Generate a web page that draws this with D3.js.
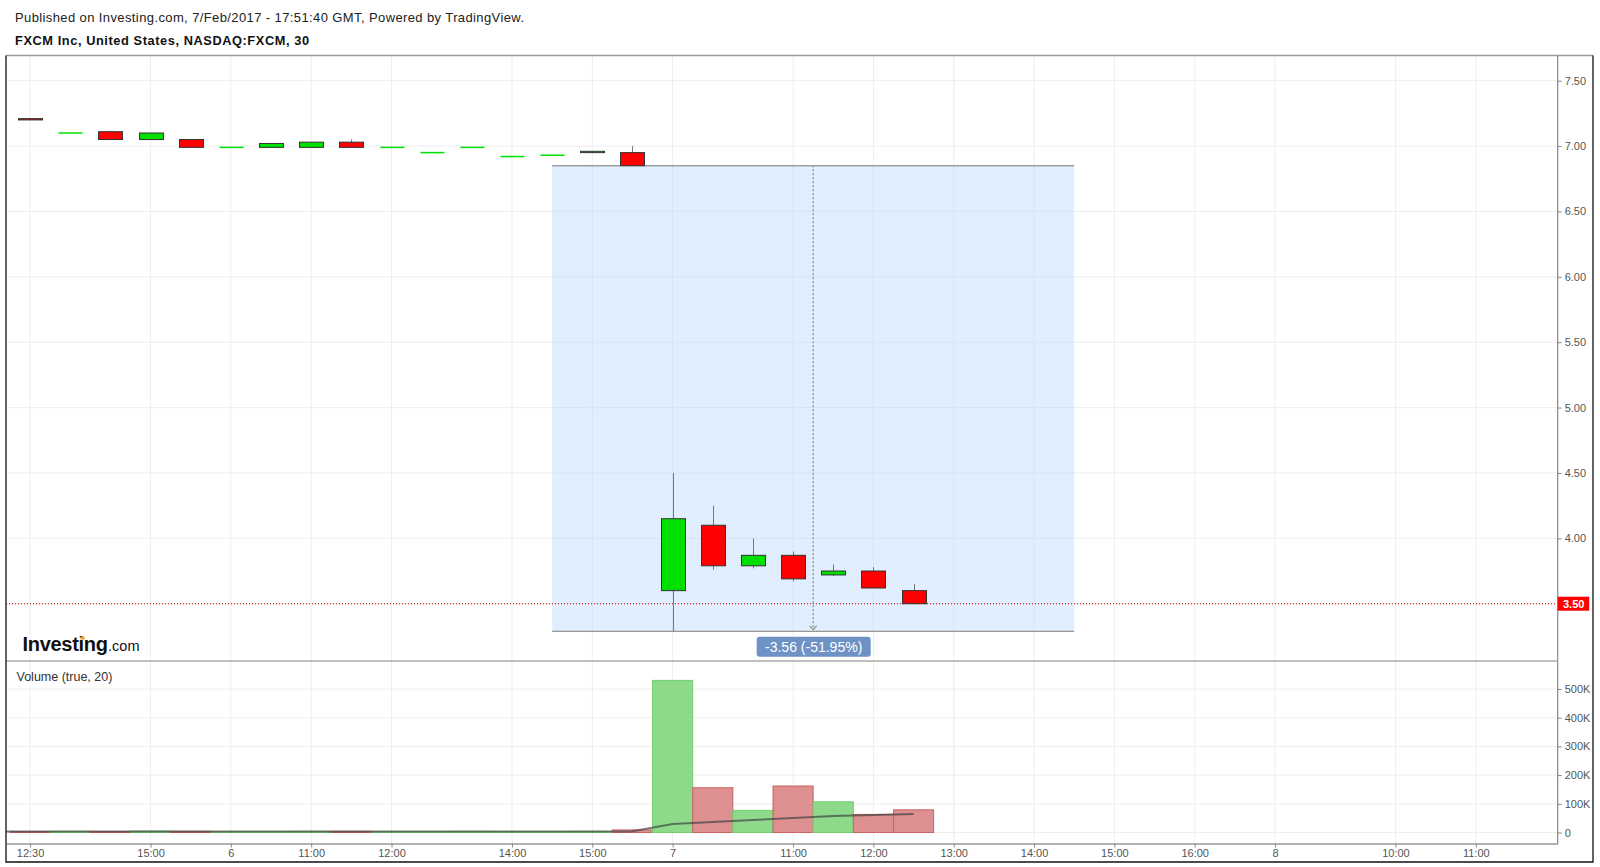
<!DOCTYPE html>
<html><head><meta charset="utf-8">
<script src="https://cdn.jsdelivr.net/npm/d3@7"></script>
<style>html,body{margin:0;padding:0;background:#fff;} svg{display:block;font-family:"Liberation Sans",Arial,sans-serif;}</style>
</head><body><svg id="c" width="1600" height="867"></svg>
<script>
// ---------------- data ----------------
const bars   = d3.range(23);
const opens  = [7.21,7.10,7.11,7.05,7.05,6.99,6.99,6.99,7.03,6.99,6.95,6.99,6.92,6.93,6.95,6.95,3.60,4.10,3.79,3.87,3.72,3.75,3.60];
const highs  = [7.21,7.10,7.11,7.10,7.05,6.99,7.02,7.03,7.05,6.99,6.95,6.99,6.92,6.93,6.96,7.00,4.50,4.25,4.00,3.90,3.80,3.78,3.65];
const lows   = [7.20,7.10,7.05,7.05,6.99,6.99,6.99,6.99,6.99,6.99,6.95,6.99,6.92,6.93,6.95,6.85,3.29,3.76,3.77,3.67,3.71,3.62,3.50];
const closes = [7.20,7.10,7.05,7.10,6.99,6.99,7.02,7.03,6.99,6.99,6.95,6.99,6.92,6.93,6.96,6.85,4.15,3.79,3.87,3.69,3.75,3.62,3.50];
const volumes = [3000,4000,3000,5000,4000,3000,3000,4000,4000,3000,3000,4000,3000,3000,4000,9000,530000,156000,77000,162000,107000,63000,79000];
const maBars   = d3.range(-1, 23);
const maValues = [3500,3500,3500,3500,3500,3500,3500,3500,3500,3500,3500,3500,3500,3500,3500,3500,4000,29600,36600,43500,50500,57500,61000,64500];
const tickBars   = [0,3,5,7,9,12,14,16,19,21,23,25,27,29,31,34,36];
const tickLabels = ["12:30","15:00","6","11:00","12:00","14:00","15:00","7","11:00","12:00","13:00","14:00","15:00","16:00","8","10:00","11:00"];
const priceTicks  = [4.0,4.5,5.0,5.5,6.0,6.5,7.0,7.5];
const volumeTicks = [0,100000,200000,300000,400000,500000];
const lastPrice = 3.50;
const measureBars   = [13, 26];
const measurePrices = [6.853, 3.293];
const measureLabel  = "-3.56 (-51.95%)";

// ---------------- layout ----------------
const L = 6, R = 1557.7, T = 56, SEP = 661, XB = 843.5, B = 862;
const svg = d3.select("#c");
const x  = d3.scaleLinear().domain([-0.6, 38.04]).range([L, R]);
const y  = d3.scaleLinear().domain([3.5, 7.5]).range([603.7, 80.7]);
const yv = d3.scaleLinear().domain([0, 500000]).range([832.5, 689]);
const up = i => closes[i] >= opens[i];

// header
svg.append("text").attr("x",15).attr("y",21.5).attr("font-size",13).attr("fill","#222")
  .attr("textLength",509).attr("lengthAdjust","spacing")
  .text("Published on Investing.com, 7/Feb/2017 - 17:51:40 GMT, Powered by TradingView.");
svg.append("text").attr("x",15).attr("y",44.5).attr("font-size",12.8).attr("font-weight","bold").attr("fill","#111")
  .attr("textLength",294).attr("lengthAdjust","spacing")
  .text("FXCM Inc, United States, NASDAQ:FXCM, 30");

const defs = svg.append("defs");
defs.append("clipPath").attr("id","cp").append("rect").attr("x",L).attr("y",T).attr("width",R-L).attr("height",SEP-T);
defs.append("clipPath").attr("id","cv").append("rect").attr("x",L).attr("y",SEP).attr("width",R-L).attr("height",XB-SEP);

// grids
const grid = svg.append("g");
grid.selectAll(".vg").data(tickBars).join("line")
  .attr("x1",d=>x(d)).attr("x2",d=>x(d)).attr("y1",T).attr("y2",XB)
  .attr("stroke","#eeeeee").attr("stroke-width",1);
grid.selectAll(".hg").data(priceTicks.concat([3.5])).join("line")
  .attr("x1",L).attr("x2",R).attr("y1",d=>y(d)).attr("y2",d=>y(d))
  .attr("stroke","#eeeeee");
grid.selectAll(".vhg").data(volumeTicks).join("line")
  .attr("x1",L).attr("x2",R).attr("y1",d=>yv(d)).attr("y2",d=>yv(d))
  .attr("stroke","#eeeeee");

// measurement box
const pp = svg.append("g").attr("clip-path","url(#cp)");
const mx0 = x(measureBars[0]), mx1 = x(measureBars[1]);
const my0 = y(measurePrices[0]), my1 = y(measurePrices[1]);
pp.append("rect").attr("x",mx0).attr("y",my0).attr("width",mx1-mx0).attr("height",my1-my0)
  .attr("fill","#bbd9fb").attr("fill-opacity",0.45);
pp.append("line").attr("x1",mx0).attr("x2",mx1).attr("y1",my0+0.5).attr("y2",my0+0.5).attr("stroke","#777");
pp.append("line").attr("x1",mx0).attr("x2",mx1).attr("y1",my1+0.5).attr("y2",my1+0.5).attr("stroke","#777");
const mxc = (mx0+mx1)/2;
pp.append("line").attr("x1",mxc).attr("x2",mxc).attr("y1",my0).attr("y2",my1-1)
  .attr("stroke","#999").attr("stroke-width",1.5).attr("stroke-dasharray","2,2");
pp.append("path").attr("d",`M${mxc-3.5},${my1-5}L${mxc},${my1-1}L${mxc+3.5},${my1-5}`)
  .attr("fill","none").attr("stroke","#999").attr("stroke-width",1.2);

// last price dotted line
pp.append("line").attr("x1",L).attr("x2",R).attr("y1",y(lastPrice)).attr("y2",y(lastPrice))
  .attr("stroke","#e00000").attr("stroke-width",1).attr("stroke-dasharray","1,2");

// candles
const cw = 24;
const cg = pp.append("g");
cg.selectAll(".wick").data(bars).join("line")
  .attr("x1",i=>Math.round(x(i))+0.5).attr("x2",i=>Math.round(x(i))+0.5)
  .attr("y1",i=>y(highs[i])).attr("y2",i=>y(lows[i]))
  .attr("stroke","#777").attr("stroke-width",1);
cg.selectAll(".body").data(bars).join("rect")
  .attr("x",i=>Math.round(x(i)-cw/2)+0.5)
  .attr("y",i=>{const t=y(Math.max(opens[i],closes[i])); return opens[i]===closes[i]? t-0.75 : t;})
  .attr("width",cw)
  .attr("height",i=>opens[i]===closes[i]?1.5:Math.max(1,Math.abs(y(opens[i])-y(closes[i]))))
  .attr("fill",i=>up(i)?"#00e000":"#ff0000")
  .attr("stroke",i=>opens[i]===closes[i]?"none":"#333")
  .attr("stroke-width",1);

// volume
const vg = svg.append("g").attr("clip-path","url(#cv)");
vg.selectAll(".vb").data(bars).join("rect")
  .attr("x",i=>x(i-0.5)).attr("width",i=>x(i+0.5)-x(i-0.5))
  .attr("y",i=>yv(volumes[i])).attr("height",i=>yv(0)-yv(volumes[i]))
  .attr("fill",i=>up(i)?"#8ddb8a":"#de8f8f")
  .attr("stroke",i=>up(i)?"#6fd16c":"#c96464").attr("stroke-width",1);
vg.append("path").datum(maBars)
  .attr("d",d3.line().x(i=>x(i)).y((i,k)=>yv(maValues[k])))
  .attr("fill","none").attr("stroke","#444").attr("stroke-opacity",0.7).attr("stroke-width",2);

// axes
const axisFont = g => g.selectAll("text").attr("font-family","Liberation Sans, Arial, sans-serif").attr("font-size",11).attr("fill","#555");
const pAxis = svg.append("g").attr("transform",`translate(${R},0)`)
  .call(d3.axisRight(y).tickValues(priceTicks).tickFormat(d3.format(".2f")).tickSize(4).tickPadding(3).tickSizeOuter(0));
pAxis.select(".domain").remove();
pAxis.selectAll(".tick line").attr("stroke","#888");
axisFont(pAxis);
const vAxis = svg.append("g").attr("transform",`translate(${R},0)`)
  .call(d3.axisRight(yv).tickValues(volumeTicks).tickFormat(d=>d===0?"0":(d/1000)+"K").tickSize(4).tickPadding(3));
vAxis.select(".domain").remove();
vAxis.selectAll(".tick line").attr("stroke","#888");
axisFont(vAxis);
svg.append("line").attr("x1",R).attr("x2",R).attr("y1",T).attr("y2",XB).attr("stroke","#888").attr("stroke-width",1.2);

const xAxis = svg.append("g").attr("transform",`translate(0,${XB})`)
  .call(d3.axisBottom(x).tickValues(tickBars).tickFormat((d,k)=>tickLabels[k]).tickSize(4).tickPadding(2).tickSizeOuter(0));
xAxis.select(".domain").attr("stroke","#666").attr("stroke-width",1.2);
xAxis.selectAll(".tick line").attr("stroke","#888");
axisFont(xAxis);

// last price label
const lp = svg.append("g");
lp.append("rect").attr("x",R).attr("y",y(lastPrice)-7).attr("width",31.5).attr("height",14).attr("fill","#ff0000");
lp.append("text").attr("x",R+16).attr("y",y(lastPrice)+4).attr("text-anchor","middle")
  .attr("font-size",11).attr("font-weight","bold").attr("fill","#fff").text(d3.format(".2f")(lastPrice));

// measurement label
svg.append("rect").attr("x",mxc-56.5).attr("y",my1+6).attr("width",114).attr("height",20).attr("rx",3)
  .attr("fill","#6f92c6");
svg.append("text").attr("x",mxc+0.5).attr("y",my1+21).attr("text-anchor","middle")
  .attr("font-size",14).attr("fill","#fff").text(measureLabel);

// pane separator & border
svg.append("line").attr("x1",L).attr("x2",R).attr("y1",SEP).attr("y2",SEP).attr("stroke","#aaa").attr("stroke-width",1.5);
svg.append("line").attr("x1",L).attr("x2",1593).attr("y1",55.5).attr("y2",55.5).attr("stroke","#999").attr("stroke-width",1.5);
svg.append("path").attr("d",`M${L},55.5V${B}H1593V55.5`).attr("fill","none").attr("stroke","#111").attr("stroke-width",1.3);

// logo
const logo = svg.append("text").attr("x",22.5).attr("y",651).attr("fill","#111");
logo.append("tspan").attr("font-size",20).attr("font-weight","bold").attr("letter-spacing",-0.3).text("Investing");
logo.append("tspan").attr("font-size",14.5).attr("dx",0.5).text(".com");
svg.append("rect").attr("x",80.6).attr("y",636.4).attr("width",4).attr("height",3.2).attr("fill","#f5a31a");

// volume title
svg.append("text").attr("x",16.5).attr("y",681).attr("font-size",12.5).attr("fill","#333").text("Volume (true, 20)");
</script></body></html>
